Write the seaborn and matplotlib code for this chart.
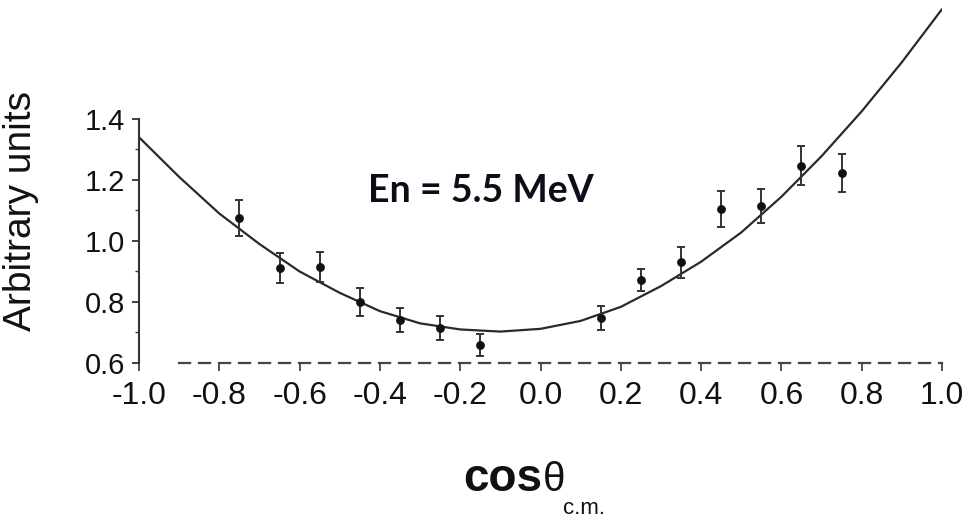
import numpy as np
import pandas as pd
import matplotlib
matplotlib.use('Agg')
import matplotlib.pyplot as plt
import seaborn as sns
from matplotlib.ticker import FixedLocator

cos_cm = [-0.75, -0.65, -0.55, -0.45, -0.35, -0.25, -0.15,
          0.15, 0.25, 0.35, 0.45, 0.55, 0.65, 0.75]
yield_au = [1.075, 0.911, 0.915, 0.800, 0.741, 0.715, 0.659,
            0.748, 0.872, 0.930, 1.105, 1.115, 1.246, 1.223]
yield_err = [0.060, 0.050, 0.050, 0.045, 0.040, 0.040, 0.035,
             0.040, 0.037, 0.050, 0.058, 0.055, 0.064, 0.063]

# fitted curve, read at steps of 0.1
fit_x = [-1.0, -0.9, -0.8, -0.7, -0.6, -0.5, -0.4, -0.3, -0.2, -0.1, 0.0,
         0.1, 0.2, 0.3, 0.4, 0.5, 0.6, 0.7, 0.8, 0.9, 1.0]
fit_y = [1.340, 1.210, 1.090, 0.990, 0.900, 0.830, 0.770, 0.730, 0.710, 0.703, 0.712,
         0.738, 0.784, 0.852, 0.932, 1.028, 1.145, 1.278, 1.425, 1.586, 1.760]

x_ticks = [-1.0, -0.8, -0.6, -0.4, -0.2, 0.0, 0.2, 0.4, 0.6, 0.8, 1.0]
y_ticks = [0.6, 0.8, 1.0, 1.2, 1.4]
y_minor = [0.7, 0.9, 1.1, 1.3]

df = pd.DataFrame({'cos': cos_cm, 'y': yield_au, 'err': yield_err})
fit = pd.DataFrame({'cos': fit_x, 'y': fit_y})

sns.set_style('ticks')
plt.rcParams['font.family'] = ['Liberation Sans', 'DejaVu Sans']

W, H = 969, 518
fig = plt.figure(figsize=(W / 100, H / 100), dpi=100)
ax = fig.add_axes([139 / W, (H - 363) / H, 803 / W, 363 / H])

sns.lineplot(data=fit, x='cos', y='y', ax=ax, color='#2a2a2a', linewidth=1.6)
ax.errorbar(df['cos'], df['y'], yerr=df['err'], fmt='none', ecolor='#333333',
            elinewidth=1.4, capsize=3, capthick=1.4)
sns.scatterplot(data=df, x='cos', y='y', ax=ax, color='#111111', s=34,
                edgecolor='#111111', marker='o', zorder=5)

ax.set_xlim(-1.0, 1.0)
ax.set_ylim(0.6, 1.79)
ax.set_xticks(x_ticks)
ax.set_xticklabels([f'{t:.1f}' for t in x_ticks])
ax.set_yticks(y_ticks)
ax.set_yticklabels([f'{t:.1f}' for t in y_ticks])
ax.yaxis.set_minor_locator(FixedLocator(y_minor))

sns.despine(ax=ax)
ax.spines['left'].set_bounds(0.6, 1.4)
ax.spines['left'].set_color('#333333')
ax.spines['left'].set_linewidth(1.5)
ax.spines['bottom'].set_bounds(-0.9, 1.0)
ax.spines['bottom'].set_color('#444444')
ax.spines['bottom'].set_linewidth(1.6)
ax.spines['bottom'].set_linestyle((0, (5, 4)))

ax.tick_params(axis='x', direction='out', length=6, width=1.3, color='#444444',
               labelsize=23, pad=7, labelcolor='#111111')
ax.tick_params(axis='y', which='major', direction='out', length=5, width=1.3,
               color='#333333', labelsize=21, pad=5, labelcolor='#111111')
ax.tick_params(axis='y', which='minor', direction='out', length=3, width=1.0,
               color='#333333')

ax.set_xlabel('')
ax.set_ylabel('Arbitrary units', fontsize=28, color='#111111')
ax.yaxis.set_label_coords(-0.124, 0.42)

ax.text(-0.148, 1.165, 'En = 5.5 MeV', fontsize=27, fontweight='bold',
        family=['Lato', 'Open Sans', 'DejaVu Sans'], color='#0d0d1a',
        ha='center', va='center')

# x axis title: cos(theta) with c.m. subscript
fig.text(503 / W, (H - 491) / H, 'cos', fontsize=33, fontweight='bold',
         ha='center', va='baseline', color='#111111')
fig.text(543 / W, (H - 491) / H, 'θ', fontsize=29, ha='left', va='baseline',
         color='#111111')
fig.text(563 / W, (H - 514) / H, 'c.m.', fontsize=16, ha='left', va='baseline',
         color='#111111')

fig.savefig('out.png', dpi=100)
